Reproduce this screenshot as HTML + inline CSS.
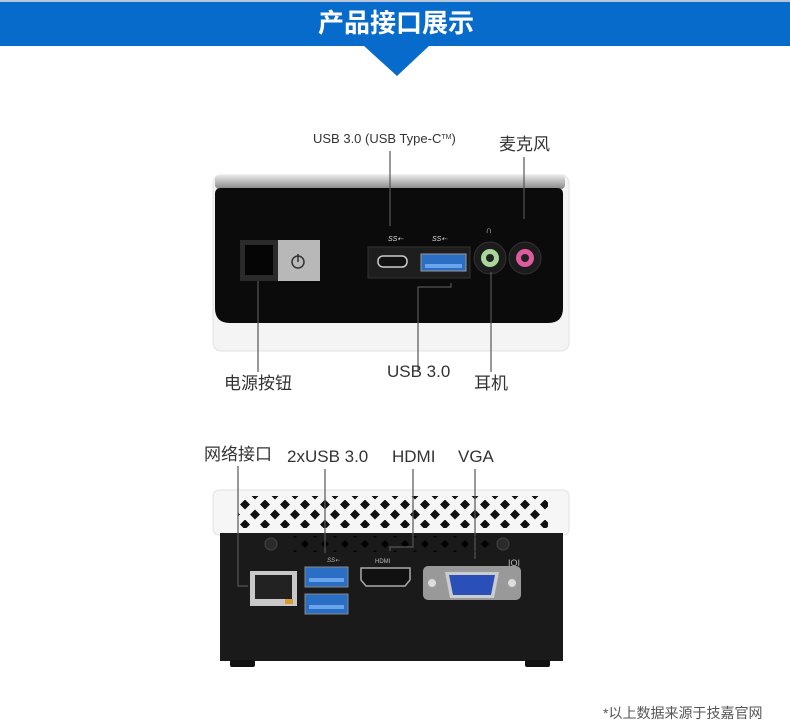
<!DOCTYPE html>
<html><head><meta charset="utf-8"><style>
body{margin:0;width:790px;height:728px;background:#fff;overflow:hidden;font-family:"Liberation Sans","Noto Sans CJK SC",sans-serif;}
svg{display:block}
</style></head><body>
<svg width="790" height="728" viewBox="0 0 790 728" xmlns="http://www.w3.org/2000/svg" font-family="Liberation Sans, Noto Sans CJK SC, sans-serif">
<defs>
<pattern id="vent" x="0" y="0" width="20" height="20" patternUnits="userSpaceOnUse">
<polygon points="5,-0.5 10,4.5 5,9.5 0,4.5" fill="#111"/>
<polygon points="15,9.5 20,14.5 15,19.5 10,14.5" fill="#111"/>
</pattern>
<pattern id="vent2" x="0" y="0" width="20" height="20" patternUnits="userSpaceOnUse">
<polygon points="5,0 9,4 5,8 1,4" fill="#000"/>
<polygon points="15,10 19,14 15,18 11,14" fill="#000"/>
</pattern>
<linearGradient id="top" x1="0" y1="0" x2="0" y2="1"><stop offset="0" stop-color="#e8e8e8"/><stop offset="1" stop-color="#888"/></linearGradient>
</defs>
<rect x="0" y="0" width="790" height="2" fill="#b8c4d8"/>
<rect x="0" y="2" width="790" height="44" fill="#066bca"/>
<polygon points="363,45 430,45 397,76" fill="#066bca"/>
<text x="396" y="32" font-size="26" font-weight="bold" fill="#fff" text-anchor="middle">产品接口展示</text>

<rect x="213" y="175" width="356" height="176" rx="8" fill="#f4f4f4" stroke="#e2e2e2"/>
<rect x="215" y="175" width="350" height="14" rx="4" fill="url(#top)"/>
<path d="M215,194 Q215,188 221,188 H557 Q563,188 563,194 V308 Q563,323 548,323 H230 Q215,323 215,308 Z" fill="#0b0b0b"/>
<rect x="240" y="240" width="80" height="41" fill="#b8b8b8"/>
<rect x="240" y="240" width="38" height="41" fill="#2a2a2a"/>
<rect x="245" y="245" width="28" height="30" fill="#050505"/>
<circle cx="298" cy="262" r="6" fill="none" stroke="#333" stroke-width="1.5"/>
<line x1="298" y1="254" x2="298" y2="262" stroke="#333" stroke-width="1.5"/>
<rect x="368" y="247" width="102" height="31" fill="#1e1e1e" stroke="#333"/>
<rect x="378" y="256" width="29" height="11" rx="5" fill="#111" stroke="#ccc" stroke-width="1.5"/>
<rect x="421" y="254" width="45" height="17" fill="#2a6fc4" stroke="#999"/>
<rect x="425" y="264" width="37" height="4" fill="#6aa4ea"/>
<text x="388" y="241" font-size="7" fill="#ddd" font-style="italic">SS⇠</text>
<text x="432" y="241" font-size="7" fill="#ddd" font-style="italic">SS⇠</text>
<circle cx="490" cy="258" r="16" fill="#1c1c1c" stroke="#333"/>
<circle cx="490" cy="258" r="9" fill="#a9d69a"/>
<circle cx="490" cy="258" r="4" fill="#222"/>
<circle cx="525" cy="258" r="16" fill="#1c1c1c" stroke="#333"/>
<circle cx="525" cy="258" r="9" fill="#e05aa0"/>
<circle cx="525" cy="258" r="4" fill="#222"/>
<text x="489" y="233" font-size="9" fill="#ddd" text-anchor="middle">∩</text>
<g stroke="#555" stroke-width="1.2" fill="none">
<line x1="390" y1="151" x2="390" y2="226"/>
<line x1="524" y1="157" x2="524" y2="219"/>
<line x1="258" y1="281" x2="258" y2="372"/>
<polyline points="418,372 418,287 451,287 451,283"/>
<line x1="491" y1="272" x2="491" y2="372"/>
</g>
<text x="313" y="143" font-size="13" fill="#333">USB 3.0 (USB Type-C<tspan font-size="7" dy="-4">TM</tspan><tspan dy="4">)</tspan></text>
<text x="499" y="150" font-size="17" fill="#333">麦克风</text>
<text x="224" y="389" font-size="17" fill="#333">电源按钮</text>
<text x="387" y="377" font-size="17" fill="#333">USB 3.0</text>
<text x="474" y="389" font-size="17" fill="#333">耳机</text>

<rect x="213" y="490" width="356" height="45" rx="6" fill="#f6f6f6" stroke="#e2e2e2"/>
<rect x="238" y="496" width="310" height="32" fill="url(#vent)"/>
<rect x="220" y="533" width="343" height="128" fill="#1a1a1a"/>
<rect x="292" y="536" width="200" height="16" fill="url(#vent2)"/>
<rect x="230" y="660" width="25" height="7" rx="2" fill="#111"/>
<rect x="525" y="660" width="25" height="7" rx="2" fill="#111"/>
<circle cx="271" cy="544" r="6" fill="#2a2a2a" stroke="#444"/>
<circle cx="503" cy="544" r="6" fill="#2a2a2a" stroke="#444"/>
<rect x="250" y="571" width="47" height="35" fill="#c8c8c8"/>
<rect x="255" y="575" width="37" height="24" fill="#222"/>
<rect x="285" y="599" width="8" height="5" fill="#d99a30"/>
<rect x="305" y="567" width="43" height="20" fill="#2a6fc4" stroke="#888"/>
<rect x="305" y="594" width="43" height="20" fill="#2a6fc4" stroke="#888"/>
<rect x="309" y="578" width="35" height="4" fill="#6aa4ea"/>
<rect x="309" y="605" width="35" height="4" fill="#6aa4ea"/>
<path d="M361,568 H410 V580 L405,586 H366 L361,580 Z" fill="#111" stroke="#aaa" stroke-width="1.5"/>
<text x="375" y="563" font-size="6" fill="#bbb">HDMI</text>
<text x="508" y="566" font-size="9" fill="#bbb">IOI</text>
<rect x="423" y="566" width="98" height="34" rx="5" fill="#999"/>
<circle cx="432" cy="583" r="4" fill="#ddd"/><circle cx="512" cy="583" r="4" fill="#ddd"/>
<path d="M445,572 H499 L494,598 H450 Z" fill="#ccc"/>
<path d="M449,575 H495 L491,595 H453 Z" fill="#2b4fb8"/>
<text x="327" y="562" font-size="6" fill="#bbb" font-style="italic">SS⇠</text>
<g stroke="#555" stroke-width="1.2" fill="none">
<polyline points="238,466 238,586 248,586"/>
<line x1="325" y1="469" x2="325" y2="553"/>
<polyline points="413,469 413,547 390,547 390,551"/>
<line x1="475" y1="469" x2="475" y2="559"/>
</g>
<text x="204" y="460" font-size="17" fill="#333">网络接口</text>
<text x="287" y="462" font-size="17" fill="#333">2xUSB 3.0</text>
<text x="392" y="462" font-size="17" fill="#333">HDMI</text>
<text x="458" y="462" font-size="17" fill="#333">VGA</text>
<text x="603" y="718" font-size="14" fill="#555">*以上数据来源于技嘉官网</text>
</svg>
</body></html>
